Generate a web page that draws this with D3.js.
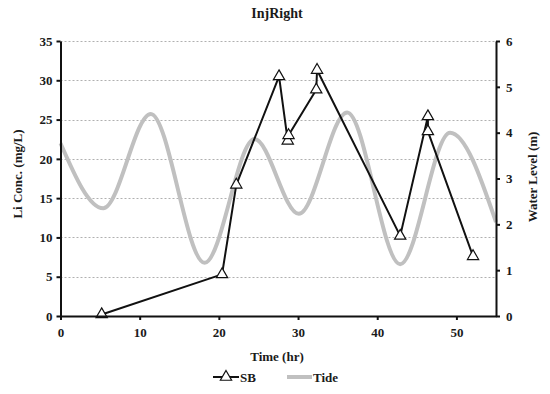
<!DOCTYPE html>
<html>
<head>
<meta charset="utf-8">
<script src="https://cdn.jsdelivr.net/npm/d3@7"></script>
<style>
  body { margin: 0; background: #fff; }
  svg text { font-family: "Liberation Serif", "Times New Roman", serif; font-weight: bold; }
</style>
</head>
<body>
<div id="chart"></div>
<script>
// SB concentration samples (hr, mg/L)
var sbTime = [5.2, 20.4, 22.2, 27.6, 28.7, 28.8, 32.3, 32.4, 42.9, 46.4, 46.4, 52.1];
var sbConc = [0.2, 5.3, 16.7, 30.5, 22.3, 23.0, 28.8, 31.3, 10.2, 25.4, 23.5, 7.6];

// tide water level read at turning points (hr, m)
var tideTime = [0, 5.4, 11.4, 18.2, 24.5, 30.1, 36.2, 42.9, 49.2, 55];
var tideLevel = [3.77, 2.35, 4.41, 1.16, 3.86, 2.23, 4.44, 1.13, 4.0, 2.05];

var xTicks = [0, 10, 20, 30, 40, 50];
var leftTicks = [0, 5, 10, 15, 20, 25, 30, 35];
var rightTicks = [0, 1, 2, 3, 4, 5, 6];

var WIDTH = 550, HEIGHT = 394;
var MARGIN = { LEFT: 60.5, RIGHT: 54, TOP: 41, BOTTOM: 78 };

var svg = d3.select("#chart").append("svg")
  .attr("width", WIDTH)
  .attr("height", HEIGHT);

var xScale = d3.scaleLinear().domain([0, 55]).range([MARGIN.LEFT, WIDTH - MARGIN.RIGHT]);
var yLeft = d3.scaleLinear().domain([0, 35]).range([HEIGHT - MARGIN.BOTTOM, MARGIN.TOP]);
var yRight = d3.scaleLinear().domain([0, 6]).range([HEIGHT - MARGIN.BOTTOM, MARGIN.TOP]);

// dotted grid
svg.append("g")
  .selectAll("line")
  .data(leftTicks.filter(d => d > 0))
  .join("line")
  .attr("x1", MARGIN.LEFT)
  .attr("x2", WIDTH - MARGIN.RIGHT)
  .attr("y1", d => Math.round(yLeft(d)) + 0.5)
  .attr("y2", d => Math.round(yLeft(d)) + 0.5)
  .attr("stroke", "#b0b0b0")
  .attr("stroke-width", 1)
  .attr("stroke-dasharray", "2,2");

// tide line
var tideData = tideTime.map((t, i) => ({ t: t, v: tideLevel[i] }));
var tideLine = d3.line()
  .curve(d3.curveMonotoneX)
  .x(d => xScale(d.t))
  .y(d => yRight(d.v));

svg.append("path")
  .datum(tideData)
  .attr("fill", "none")
  .attr("stroke", "#c0c0c0")
  .attr("stroke-width", 4)
  .attr("d", tideLine);

// SB line + markers
var sbData = sbTime.map((t, i) => ({ t: t, v: sbConc[i] }));
var sbLine = d3.line()
  .x(d => xScale(d.t))
  .y(d => yLeft(d.v));

svg.append("path")
  .datum(sbData)
  .attr("fill", "none")
  .attr("stroke", "#111")
  .attr("stroke-width", 2)
  .attr("stroke-linejoin", "round")
  .attr("d", sbLine);

var tri = d3.symbol().type(d3.symbolTriangle).size(55);
svg.append("g")
  .selectAll("path")
  .data(sbData)
  .join("path")
  .attr("transform", d => "translate(" + xScale(d.t) + "," + yLeft(d.v) + ")")
  .attr("d", tri)
  .attr("fill", "#fff")
  .attr("stroke", "#111")
  .attr("stroke-width", 1.2);

// axes
var xAxisCall = d3.axisBottom(xScale).tickValues(xTicks).tickSize(4).tickSizeOuter(0);
var leftAxisCall = d3.axisLeft(yLeft).tickValues(leftTicks).tickSize(4).tickSizeOuter(0);
var rightAxisCall = d3.axisRight(yRight).tickValues(rightTicks).tickFormat(d3.format("d")).tickSize(4).tickSizeOuter(0);

function styleAxis(g) {
  g.select(".domain").attr("stroke", "#111").attr("stroke-width", 2);
  g.selectAll(".tick line").attr("stroke", "#111").attr("stroke-width", 2);
  g.selectAll(".tick text")
    .attr("fill", "#1a1a1a")
    .style("font-size", "13px")
    .style("font-family", "'Liberation Serif', serif")
    .style("font-weight", "bold");
}

svg.append("g")
  .attr("class", "x axis")
  .attr("transform", "translate(0," + (HEIGHT - MARGIN.BOTTOM) + ")")
  .call(xAxisCall)
  .call(styleAxis)
  .selectAll(".tick text").attr("dy", "1.05em");

svg.append("g")
  .attr("class", "y axis")
  .attr("transform", "translate(" + MARGIN.LEFT + ",0)")
  .call(leftAxisCall)
  .call(styleAxis)
  .selectAll(".tick text").attr("x", -8);

svg.append("g")
  .attr("class", "y axis right")
  .attr("transform", "translate(" + (WIDTH - MARGIN.RIGHT) + ",0)")
  .call(rightAxisCall)
  .call(styleAxis)
  .selectAll(".tick text").attr("x", 10);

// titles
svg.append("text")
  .attr("x", 277).attr("y", 18)
  .attr("text-anchor", "middle")
  .attr("fill", "#1a1a1a")
  .style("font-size", "14px")
  .text("InjRight");

svg.append("text")
  .attr("x", 277).attr("y", 361)
  .attr("text-anchor", "middle")
  .attr("fill", "#1a1a1a")
  .style("font-size", "13px")
  .text("Time (hr)");

svg.append("text")
  .attr("transform", "translate(22,174) rotate(-90)")
  .attr("text-anchor", "middle")
  .attr("fill", "#1a1a1a")
  .style("font-size", "13px")
  .text("Li Conc. (mg/L)");

svg.append("text")
  .attr("transform", "translate(537,177) rotate(-90)")
  .attr("text-anchor", "middle")
  .attr("fill", "#1a1a1a")
  .style("font-size", "13px")
  .text("Water Level (m)");

// legend
var legend = svg.append("g").attr("transform", "translate(0,377)");
legend.append("line")
  .attr("x1", 213).attr("x2", 239).attr("y1", 0).attr("y2", 0)
  .attr("stroke", "#111").attr("stroke-width", 2);
legend.append("path")
  .attr("transform", "translate(226,0)")
  .attr("d", tri)
  .attr("fill", "#fff").attr("stroke", "#111").attr("stroke-width", 1.2);
legend.append("text")
  .attr("x", 240).attr("y", 4.5)
  .attr("fill", "#1a1a1a")
  .style("font-size", "13px")
  .text("SB");
legend.append("line")
  .attr("x1", 287).attr("x2", 312).attr("y1", 0).attr("y2", 0)
  .attr("stroke", "#c0c0c0").attr("stroke-width", 4);
legend.append("text")
  .attr("x", 313).attr("y", 4.5)
  .attr("fill", "#1a1a1a")
  .style("font-size", "13px")
  .text("Tide");
</script>
</body>
</html>
